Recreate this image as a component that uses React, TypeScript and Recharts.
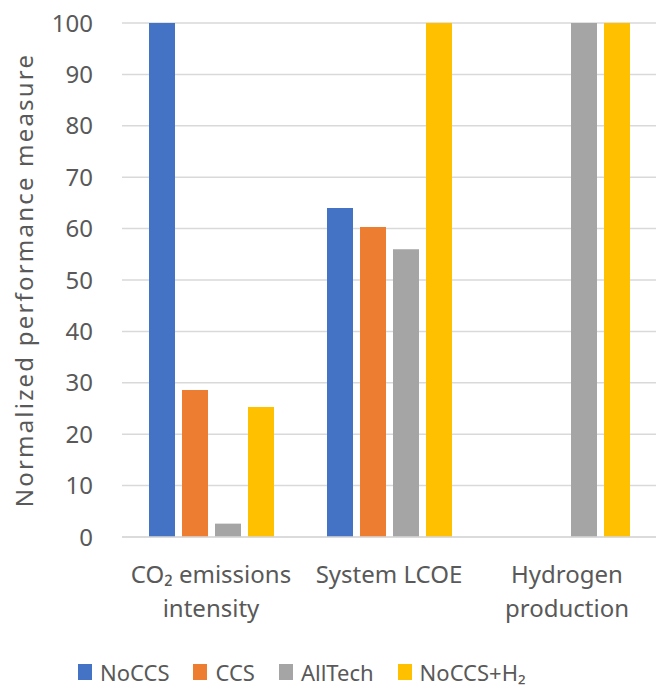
import React from "react";
import { BarChart, Bar, XAxis, YAxis, CartesianGrid, Legend } from "recharts";

const categories = ["CO₂ emissions intensity", "System LCOE", "Hydrogen production"];
const tickLines = [["CO₂ emissions", "intensity"], ["System LCOE"], ["Hydrogen", "production"]];
const seriesNames = ["NoCCS", "CCS", "AllTech", "NoCCS+H₂"];
const seriesColors = ["#4472C4", "#ED7D31", "#A5A5A5", "#FFC000"];
const noCCS = [100, 64, 0];
const ccs = [28.6, 60.3, 0];
const allTech = [2.6, 56, 100];
const noCCSH2 = [25.3, 100, 100];
const yTicks = [0, 10, 20, 30, 40, 50, 60, 70, 80, 90, 100];
const yLabel = "Normalized performance measure";

const seriesValues = [noCCS, ccs, allTech, noCCSH2];
const data = categories.map((c, i) => {
  const row: Record<string, string | number> = { category: c };
  seriesNames.forEach((s, k) => {
    row[s] = seriesValues[k][i];
  });
  return row;
});

const FONT = "'Noto Sans', sans-serif";
const TEXT = "#595959";

function XTick(props: any) {
  const { x, y, payload } = props;
  const idx = categories.indexOf(payload.value);
  const lines = idx >= 0 ? tickLines[idx] : [String(payload.value)];
  return (
    <text x={x} y={y} textAnchor="middle" fill={TEXT} fontSize={24} fontFamily={FONT}>
      {lines.map((l, i) => (
        <tspan key={i} x={x} dy={i === 0 ? 46 : 34}>
          {l}
        </tspan>
      ))}
    </text>
  );
}

function YLabel(props: any) {
  const vb = props.viewBox || { x: 0, y: 0, width: 0, height: 0 };
  const cx = vb.x + 33;
  const cy = vb.y + vb.height / 2;
  return (
    <text
      x={cx}
      y={cy}
      transform={`rotate(-90, ${cx}, ${cy})`}
      textAnchor="middle"
      fill={TEXT}
      fontSize={24}
      fontFamily={FONT}
      letterSpacing={2.2}
    >
      {yLabel}
    </text>
  );
}

function LegendContent() {
  return (
    <div
      style={{
        display: "flex",
        alignItems: "center",
        height: 30,
        paddingLeft: 78,
        fontFamily: FONT,
        fontSize: 22,
        color: TEXT,
        boxSizing: "border-box",
        overflow: "visible",
      }}
    >
      {seriesNames.map((s, i) => (
        <div key={s} style={{ display: "flex", alignItems: "center", marginRight: 24, flexShrink: 0 }}>
          <div style={{ width: 14, height: 16, background: seriesColors[i], marginRight: 8, flexShrink: 0 }} />
          <span style={{ whiteSpace: "nowrap" }}>{s}</span>
        </div>
      ))}
    </div>
  );
}

export default function App() {
  return (
    <div style={{ position: "absolute", left: 0, top: 0, width: 656, height: 687, background: "#fff" }}>
      <BarChart
        width={656}
        height={687}
        data={data}
        margin={{ top: 23, right: 0, bottom: 0, left: 0 }}
        barSize={26}
        barGap={7}
      >
        <CartesianGrid vertical={false} stroke="#D9D9D9" strokeWidth={1.5} />
        <XAxis
          dataKey="category"
          axisLine={{ stroke: "#D9D9D9", strokeWidth: 1.5 }}
          tickLine={false}
          tickSize={0}
          tickMargin={0}
          height={120}
          tick={<XTick />}
          interval={0}
        />
        <YAxis
          width={122}
          domain={[0, 100]}
          ticks={yTicks}
          axisLine={false}
          tickLine={false}
          tickSize={0}
          tickMargin={29}
          tick={{ fill: TEXT, fontSize: 24, fontFamily: FONT }}
          label={{ content: <YLabel /> }}
        />
        <Legend verticalAlign="bottom" align="left" content={<LegendContent />} />
        {seriesNames.map((s, i) => (
          <Bar key={s} dataKey={s} fill={seriesColors[i]} isAnimationActive={false} />
        ))}
      </BarChart>
    </div>
  );
}
